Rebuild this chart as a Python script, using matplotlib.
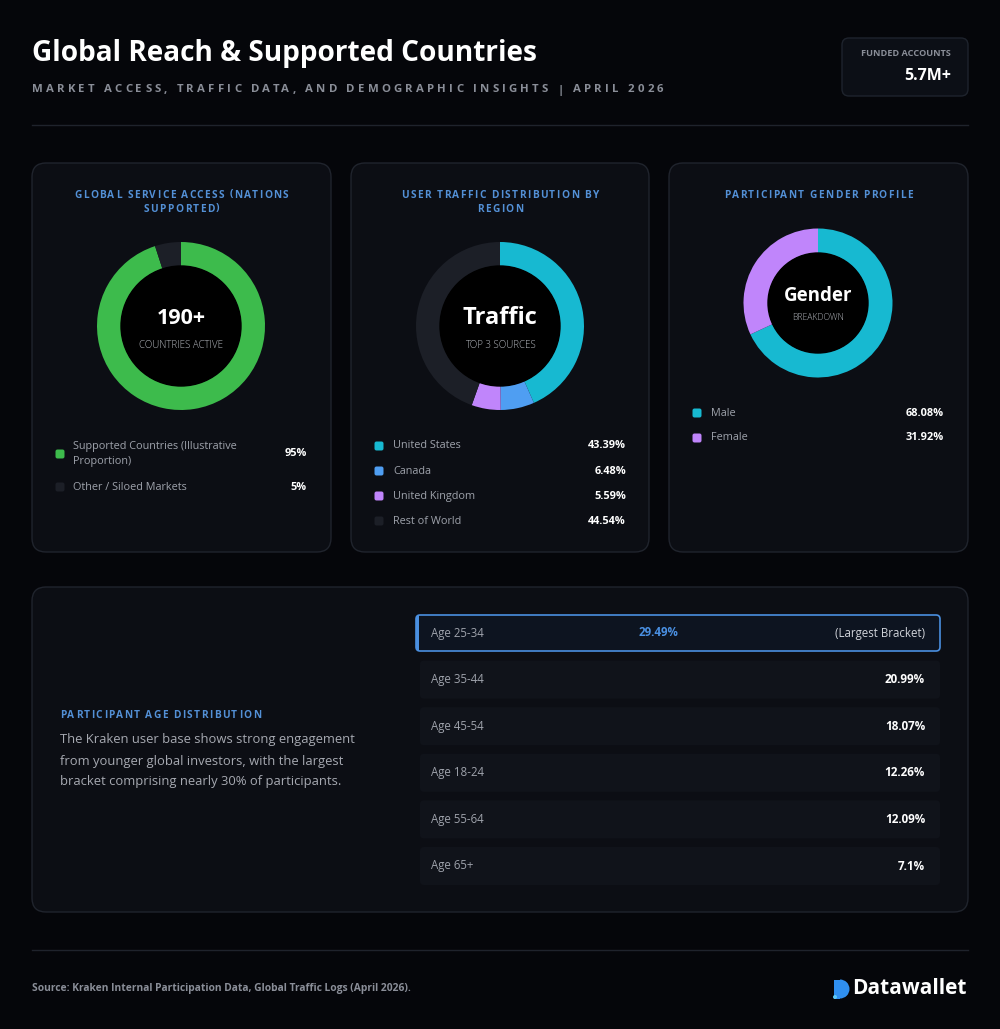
import matplotlib
matplotlib.use('Agg')
import matplotlib.pyplot as plt
from matplotlib.patches import FancyBboxPatch, Circle, Wedge, Rectangle
from matplotlib.font_manager import FontProperties

# ---- data ----
access_labels = ['Supported Countries (Illustrative\nProportion)', 'Other / Siloed Markets']
access_values = [95, 5]

traffic_labels = ['United States', 'Canada', 'United Kingdom', 'Rest of World']
traffic_values = [43.39, 6.48, 5.59, 44.54]

gender_labels = ['Male', 'Female']
gender_values = [68.08, 31.92]

age_labels = ['Age 25-34', 'Age 35-44', 'Age 45-54', 'Age 18-24', 'Age 55-64', 'Age 65+']
age_values = [29.49, 20.99, 18.07, 12.26, 12.09, 7.1]

# ---- styling ----
FONT = 'Open Sans'
BG = '#05060a'
CARD = '#0c0e14'
EDGE = '#20242d'
GREEN = '#3dbb4c'
CYAN = '#17b9d1'
BLUE = '#4f9ef2'
PURPLE = '#c085fb'
DARKSEG = '#1c1f27'
TITLE_BLUE = '#5390d6'
GREY = '#9ea2ab'

W, H = 1000, 1029
fig = plt.figure(figsize=(10, 10.29), dpi=100)
fig.patch.set_facecolor(BG)
ax = fig.add_axes([0, 0, 1, 1])
ax.set_xlim(0, W)
ax.set_ylim(H, 0)
ax.axis('off')

_r = fig.canvas.get_renderer()


def T(x, y, s, size=8, color='white', weight='normal', ha='left', va='center', **kw):
    return fig.text(x / W, 1 - y / H, s, fontsize=size, color=color, family=FONT,
                    fontweight=weight, ha=ha, va=va, **kw)


def spaced(x, y, s, size, color, track, weight='bold', ha='left'):
    # letter-spaced text, y is the baseline
    fp = FontProperties(family=FONT, size=size, weight=weight)
    w = lambda t: _r.get_text_width_height_descent(t, fp, ismath=False)[0]
    offs = [0 if i == 0 else w(s[:i + 1]) - w(ch) + i * track for i, ch in enumerate(s)]
    total = w(s) + (len(s) - 1) * track
    x0 = x - total / 2 if ha == 'center' else (x - total if ha == 'right' else x)
    for ch, o in zip(s, offs):
        if ch.strip():
            fig.text((x0 + o) / W, 1 - y / H, ch, fontproperties=fp, color=color,
                     ha='left', va='baseline')


def box(x0, y0, x1, y1, r=14, fc=CARD, ec=EDGE, lw=1.0, z=1):
    p = FancyBboxPatch((x0, y0), x1 - x0, y1 - y0, boxstyle=f'round,pad=0,rounding_size={r}',
                       fc=fc, ec=ec, lw=lw, zorder=z)
    ax.add_patch(p)
    return p


def donut(cx, cy, r_out, r_in, values, colors):
    dax = fig.add_axes([(cx - r_out) / W, (H - cy - r_out) / H, 2 * r_out / W, 2 * r_out / H])
    dax.pie(values, colors=colors, startangle=90, counterclock=False, radius=1,
            wedgeprops=dict(width=1 - r_in / r_out, linewidth=0))
    dax.add_patch(Circle((0, 0), r_in / r_out, color='black', zorder=3))
    dax.set_xlim(-1, 1)
    dax.set_ylim(-1, 1)
    dax.axis('off')
    return dax


def swatch(x, y, color):
    box(x - 4.5, y - 4.5, x + 4.5, y + 4.5, r=2, fc=color, ec='none', lw=0, z=3)


def pct(v):
    return f'{v:g}%'


# ---- header ----
T(32, 54, 'Global Reach & Supported Countries', size=20.2, weight='bold')
spaced(32, 92.5, 'MARKET ACCESS, TRAFFIC DATA, AND DEMOGRAPHIC INSIGHTS | APRIL 2026',
       8.2, '#8a8e98', 3.2)

box(842, 38, 968, 96, r=7, fc='#0c0f16', ec='#1e232d')
T(951, 54, 'FUNDED ACCOUNTS', size=6.6, color='#8a8e98', weight='bold', ha='right')
T(951, 76, '5.7M+', size=11.5, weight='bold', ha='right')

ax.plot([32, 968], [125, 125], color='#1f232c', lw=1)

# ---- card 1: global access ----
TS, TT = 7.3, 1.4   # card title size / tracking
box(32, 163, 331, 552)
spaced(181.5, 197.5, 'GLOBAL SERVICE ACCESS (NATIONS', TS, TITLE_BLUE, TT, ha='center')
spaced(181.5, 211.5, 'SUPPORTED)', TS, TITLE_BLUE, TT, ha='center')
donut(181, 326, 84, 60, access_values, [GREEN, DARKSEG])
T(181, 318, '190+', size=15.5, weight='bold', ha='center')
T(181, 345, 'COUNTRIES ACTIVE', size=7, color='#b5b8bf', ha='center', weight='light')

access_colors = [GREEN, DARKSEG]
access_y = [454, 487]
for lab, val, col, yy in zip(access_labels, access_values, access_colors, access_y):
    swatch(60, yy, col)
    T(73, yy, lab, size=7.8, color=GREY, linespacing=1.45)
    T(307, yy, pct(val), size=7.8, weight='bold', ha='right')

# ---- card 2: traffic ----
box(351, 163, 649, 552)
spaced(500, 197.5, 'USER TRAFFIC DISTRIBUTION BY', TS, TITLE_BLUE, TT, ha='center')
spaced(500, 211.5, 'REGION', TS, TITLE_BLUE, TT, ha='center')
traffic_colors = [CYAN, BLUE, PURPLE, DARKSEG]
donut(500, 326, 84, 60, traffic_values, traffic_colors)
T(500, 318, 'Traffic', size=17, weight='bold', ha='center')
T(500, 345, 'TOP 3 SOURCES', size=7, color='#b5b8bf', ha='center', weight='light')

for i, (lab, val, col) in enumerate(zip(traffic_labels, traffic_values, traffic_colors)):
    yy = 446 + 25 * i
    swatch(379, yy, col)
    T(393, yy, lab, size=7.8, color=GREY)
    T(626, yy, pct(val), size=7.9, weight='bold', ha='right')

# ---- card 3: gender ----
box(669, 163, 968, 552)
spaced(818.5, 197.5, 'PARTICIPANT GENDER PROFILE', TS, TITLE_BLUE, TT, ha='center')
gender_colors = [CYAN, PURPLE]
donut(818, 303, 74.5, 50, gender_values, gender_colors)
T(818, 296, 'Gender', size=13.5, weight='bold', ha='center')
T(818, 318, 'BREAKDOWN', size=6.2, color='#b5b8bf', ha='center', weight='light')

for i, (lab, val, col) in enumerate(zip(gender_labels, gender_values, gender_colors)):
    yy = 413 + 25 * i
    swatch(697, yy, col)
    T(711, yy, lab, size=7.8, color=GREY)
    T(944, yy, pct(val), size=7.9, weight='bold', ha='right')

# ---- age distribution ----
box(32, 587, 968, 912)
spaced(60, 718, 'PARTICIPANT AGE DISTRIBUTION', TS, TITLE_BLUE, TT)
para = ['The Kraken user base shows strong engagement',
        'from younger global investors, with the largest',
        'bracket comprising nearly 30% of participants.']
for i, line in enumerate(para):
    T(60, 740 + 21 * i, line, size=9.35, color='#a6a9b1')

row_step = 46.6
for i, (lab, val) in enumerate(zip(age_labels, age_values)):
    yc = 633 + row_step * i
    if i == 0:
        box(416, yc - 18, 940, yc + 18, r=4, fc='#0d1420', ec='#4a8fe0', lw=1.2, z=2)
        ax.add_patch(Rectangle((416, yc - 17), 2.5, 34, fc='#4a8fe0', ec='none', zorder=3))
        T(431, yc, lab, size=8.3, color=GREY)
        T(658, yc, pct(val), size=8.3, color='#4a90e2', weight='bold', ha='center')
        T(925, yc, '(Largest Bracket)', size=8.3, color='#d0d3d9', ha='right')
    else:
        box(420, yc - 19, 940, yc + 19, r=4, fc='#10131a', ec='none', lw=0, z=2)
        T(431, yc, lab, size=8.3, color=GREY)
        T(925, yc, pct(val), size=8.4, weight='bold', ha='right')

# ---- footer ----
ax.plot([32, 968], [950, 950], color='#1f232c', lw=1)
T(32, 989, 'Source: Kraken Internal Participation Data, Global Traffic Logs (April 2026).',
  size=7.4, color='#8a8e98', weight='bold')
ax.add_patch(Rectangle((834, 979.5), 6, 19, fc='#2f8ff0', ec='none', zorder=3))
ax.add_patch(Wedge((840, 989), 9.5, -90, 90, fc='#2f8ff0', ec='none', zorder=3))
ax.add_patch(Circle((835, 997), 2, fc='#5cc8f5', ec='none', zorder=4))
T(967, 989, 'Datawallet', size=15.0, weight='bold', ha='right')

fig.savefig('out.png', dpi=100, facecolor=BG)
